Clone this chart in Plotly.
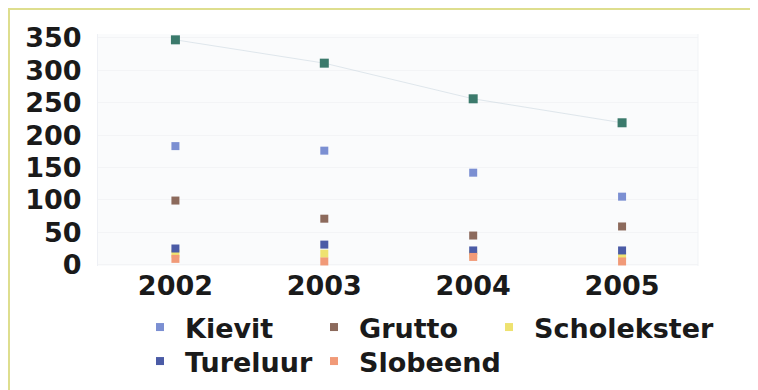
import plotly.graph_objects as go

years = ["2002", "2003", "2004", "2005"]
totaal = [347, 311, 256, 219]
kievit = [183, 176, 142, 105]
grutto = [99, 71, 45, 59]
scholekster = [17, 17, 16, 13]
tureluur = [25, 31, 22, 22]
slobeend = [9, 5, 12, 5]

xpos = list(range(len(years)))

# name, values, colour, legend id, legend text start x (px), legend top y (px)
series = [
    ("Kievit", kievit, "#7b8fd2", "legend", 127, 295),
    ("Grutto", grutto, "#8c6a5c", "legend2", 301, 295),
    ("Scholekster", scholekster, "#eee270", "legend3", 476, 295),
    ("Tureluur", tureluur, "#4b5ba6", "legend4", 127, 329),
    ("Slobeend", slobeend, "#f19a78", "legend5", 301, 329),
]

# page body has an 8px margin; figure is sized to fit the window
W, H = 750, 382
L, R, T, B = 90, 60, 26, 124
PW, PH = W - L - R, H - T - B


def px(x):
    return (x - L) / PW


def py(y):
    return 1 - (y - T) / PH


fig = go.Figure()
fig.add_trace(go.Scatter(
    x=xpos, y=totaal, mode="lines+markers", name="Totaal", showlegend=False,
    line=dict(color="rgba(195,210,220,0.5)", width=1),
    marker=dict(symbol="square", size=9, color="#3b7a6c"),
))
for name, vals, col, lg, _, _ in series:
    fig.add_trace(go.Scatter(
        x=xpos, y=vals, mode="markers", name=name, legend=lg,
        marker=dict(symbol="square", size=8, color=col),
    ))

font_family = "DejaVu Sans, Verdana, sans-serif"
legend_common = dict(
    orientation="v",
    font=dict(family=font_family, size=27, color="#1a1a1a", weight="bold"),
    bgcolor="rgba(0,0,0,0)", yanchor="top", xanchor="left",
    tracegroupgap=0, itemsizing="trace", itemwidth=40,
)

legends = {lg: dict(x=px(lx), y=py(ly), **legend_common)
           for _, _, _, lg, lx, ly in series}

fig.update_layout(
    width=W, height=H,
    margin=dict(l=L, r=R, t=T, b=B, autoexpand=False),
    paper_bgcolor="white", plot_bgcolor="#fafbfc",
    font=dict(family=font_family, size=27, color="#1a1a1a"),
    xaxis=dict(
        tickmode="array", tickvals=xpos, ticktext=years,
        range=[-0.52, 3.51], showgrid=False, zeroline=False,
        showline=False, ticks="", ticklabelstandoff=1,
        tickfont=dict(size=27, weight="bold"), automargin=False,
    ),
    yaxis=dict(
        range=[-2, 356], tickvals=[0, 50, 100, 150, 200, 250, 300, 350],
        showgrid=True, gridcolor="#f3f4f6", zeroline=False,
        showline=True, linecolor="#eef0f5", ticks="", ticklabelstandoff=10,
        tickfont=dict(size=27, weight="bold"), automargin=False,
    ),
    shapes=[
        dict(type="line", xref="paper", yref="paper",
             x0=px(-2), x1=px(W + 2), y0=py(0.5), y1=py(0.5),
             line=dict(color="#dede8e", width=3)),
        dict(type="line", xref="paper", yref="paper",
             x0=px(0.5), x1=px(0.5), y0=py(0), y1=py(H + 2),
             line=dict(color="#dede8e", width=3)),
        dict(type="line", xref="paper", yref="paper",
             x0=1, x1=1, y0=0, y1=1,
             line=dict(color="#f1f3f6", width=1)),
    ],
    **legends,
)

fig.write_html("out.html")
